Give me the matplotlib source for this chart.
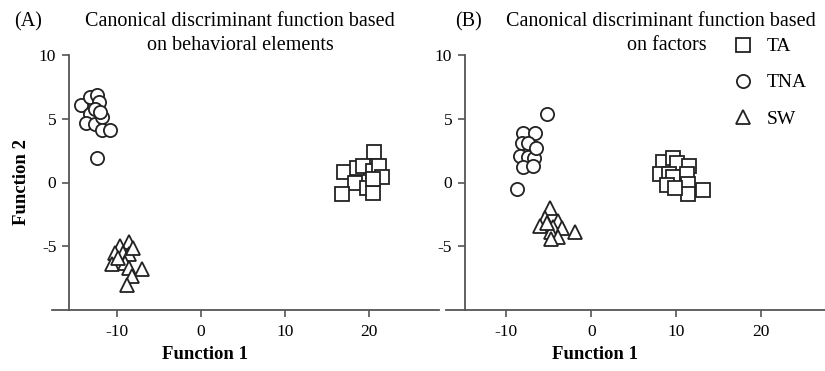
import matplotlib
matplotlib.use("Agg")
import matplotlib.pyplot as plt

plt.rcParams['font.family'] = ['Liberation Serif', 'DejaVu Serif']
plt.rcParams['axes.unicode_minus'] = False

# Panel A: behavioral elements
a_ta_x = [20.6, 17.0, 18.6, 19.3, 20.4, 21.2, 21.5, 18.3, 19.8, 20.5, 16.8, 20.4]
a_ta_y = [2.4, 0.8, 1.1, 1.3, 0.9, 1.3, 0.4, 0.0, -0.4, -0.8, -0.9, 0.3]
a_tna_x = [-14.3, -13.2, -12.3, -12.1, -13.2, -13.6, -12.6, -11.7, -11.8, -10.8, -12.4, -12.6, -12.0]
a_tna_y = [6.1, 6.7, 6.9, 6.3, 5.4, 4.7, 4.6, 5.1, 4.1, 4.1, 1.9, 5.8, 5.5]
a_sw_x = [-8.5, -9.6, -10.2, -9.3, -8.5, -8.1, -10.6, -9.0, -8.5, -7.0, -8.2, -8.8, -9.9]
a_sw_y = [-4.7, -5.0, -5.5, -5.5, -5.6, -5.1, -6.4, -6.3, -6.7, -6.8, -7.3, -8.0, -5.9]

# Panel B: factors
b_ta_x = [8.4, 9.6, 10.1, 11.5, 8.1, 9.1, 9.6, 11.3, 8.9, 11.4, 11.4, 13.2, 9.9]
b_ta_y = [1.6, 1.9, 1.5, 1.3, 0.7, 0.7, 0.4, 0.7, -0.2, -0.1, -0.9, -0.6, -0.4]
b_tna_x = [-5.2, -8.0, -6.6, -8.1, -7.4, -8.4, -7.5, -6.8, -8.0, -6.9, -8.7, -6.5]
b_tna_y = [5.4, 3.9, 3.9, 3.1, 3.1, 2.1, 2.0, 1.9, 1.2, 1.3, -0.5, 2.7]
b_sw_x = [-4.9, -5.4, -3.9, -6.0, -4.5, -3.4, -4.8, -3.9, -4.8, -1.9, -5.2]
b_sw_y = [-2.0, -2.8, -3.0, -3.4, -3.5, -3.6, -3.9, -4.3, -4.4, -3.9, -3.2]

x_ticks = [-10, 0, 10, 20]
y_ticks = [-5, 0, 5, 10]
groups = ['TA', 'TNA', 'SW']
markers = ['s', 'o', '^']

W, H = 825, 371
fig = plt.figure(figsize=(W / 100, H / 100), dpi=100)

bottom = 1 - 310 / H
height = (310 - 55) / H
axA = fig.add_axes([52 / W, bottom, 387 / W, height])
axB = fig.add_axes([446 / W, bottom, 379 / W, height])

axis_col = '#555555'

def style(ax, xlim, spine_x, label_x):
    ax.set_xlim(*xlim)
    ax.set_ylim(-10, 10)
    for s in ['top', 'right']:
        ax.spines[s].set_visible(False)
    ax.spines['left'].set_position(('data', spine_x))
    ax.spines['left'].set_bounds(-10, 10)
    for s in ['left', 'bottom']:
        ax.spines[s].set_color(axis_col)
        ax.spines[s].set_linewidth(1.3)
    ax.set_xticks(x_ticks)
    ax.set_xticklabels([str(v) for v in x_ticks])
    ax.set_yticks(y_ticks)
    ax.set_yticklabels([str(v) for v in y_ticks])
    ax.tick_params(direction='out', length=5, width=1.2, color=axis_col,
                   labelsize=12.5, labelcolor='black', pad=4)
    ax.tick_params(axis='x', pad=5)
    ax.set_xlabel('Function 1', fontsize=13.5, fontweight='bold')
    ax.xaxis.set_label_coords(label_x, -0.14)

def scatter(ax, data):
    for (xs, ys), m, lab in zip(data, markers, groups):
        ms = 9.5
        ax.plot(xs, ys, linestyle='none', marker=m, markersize=ms,
                markerfacecolor='white', markeredgecolor='#222222',
                markeredgewidth=1.3, label=lab, clip_on=False)

style(axA, (-17.7, 28.3), -15.7, 0.395)
style(axB, (-17.1, 27.5), -14.9, 0.393)
scatter(axA, [(a_ta_x, a_ta_y), (a_tna_x, a_tna_y), (a_sw_x, a_sw_y)])
scatter(axB, [(b_ta_x, b_ta_y), (b_tna_x, b_tna_y), (b_sw_x, b_sw_y)])

fig.text(22 / W, 1 - 182 / H, 'Function 2', rotation=90, ha='center', va='center',
         fontsize=13.5, fontweight='bold')

tfs = 14.5
fig.text(14 / W, 1 - 22 / H, '(A)', ha='left', va='center', fontsize=tfs)
fig.text(240 / W, 1 - 22 / H, 'Canonical discriminant function based', ha='center', va='center', fontsize=tfs)
fig.text(240 / W, 1 - 46 / H, 'on behavioral elements', ha='center', va='center', fontsize=tfs)

fig.text(455 / W, 1 - 22 / H, '(B)', ha='left', va='center', fontsize=tfs)
fig.text(661 / W, 1 - 22 / H, 'Canonical discriminant function based', ha='center', va='center', fontsize=tfs)
fig.text(667 / W, 1 - 46 / H, 'on factors', ha='center', va='center', fontsize=tfs)

leg = axB.legend(loc='upper left', bbox_to_anchor=(722 / W, 1 - 28 / H),
                 bbox_transform=fig.transFigure, frameon=False, fontsize=14,
                 handletextpad=0.6, labelspacing=0.95, borderpad=0, handlelength=1.2)

fig.savefig('out.png', dpi=100)
